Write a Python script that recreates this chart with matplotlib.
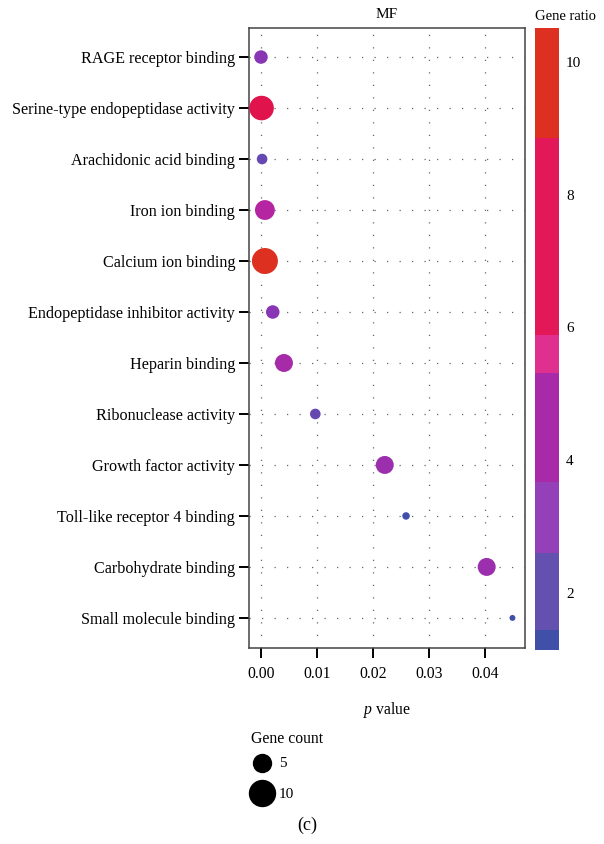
import numpy as np
import matplotlib
matplotlib.use('Agg')
import matplotlib.pyplot as plt
from matplotlib.colors import ListedColormap, BoundaryNorm, LinearSegmentedColormap, Normalize
from matplotlib.cm import ScalarMappable
from matplotlib.lines import Line2D
from matplotlib.legend_handler import HandlerLine2D

plt.rcParams['font.family'] = ['Liberation Serif', 'DejaVu Serif']
plt.rcParams['font.size'] = 11
plt.rcParams['mathtext.fontset'] = 'custom'
plt.rcParams['mathtext.rm'] = 'Liberation Serif'
plt.rcParams['mathtext.it'] = 'Liberation Serif:italic'

# GO molecular function terms (top to bottom)
terms = ['RAGE receptor binding', 'Serine-type endopeptidase activity',
         'Arachidonic acid binding', 'Iron ion binding', 'Calcium ion binding',
         'Endopeptidase inhibitor activity', 'Heparin binding',
         'Ribonuclease activity', 'Growth factor activity',
         'Toll-like receptor 4 binding', 'Carbohydrate binding',
         'Small molecule binding']
p_values = [0.0000, 0.0001, 0.0002, 0.0007, 0.0007, 0.0021, 0.0041,
            0.0097, 0.0221, 0.0259, 0.0403, 0.0449]
gene_count = [3, 9, 2, 6, 10, 3, 5, 2, 5, 1.2, 5, 0.9]
gene_ratio = [3.2, 8.0, 2.2, 5.0, 10.0, 3.2, 4.5, 2.2, 4.0, 1.3, 4.0, 1.3]

# binned colour bar as drawn in the figure
bar_bounds = [1.14, 1.44, 2.60, 3.67, 5.32, 5.89, 8.86, 10.51]
bar_colors = ['#4050a8', '#6450ae', '#9440b8', '#a82aa8', '#e0308f', '#e21858', '#de3020']
bar_ticks = [2, 4, 6, 8, 10]
legend_counts = [5, 10]


def dot_size(n):
    return 2.07 * (17.6 * np.asarray(n, dtype=float) - 7)


class CenteredMarker(HandlerLine2D):
    # put the legend circle level with the middle of its label
    def create_artists(self, legend, orig_handle, xdescent, ydescent, width, height, fontsize, trans):
        return super().create_artists(legend, orig_handle, xdescent, ydescent, width,
                                      height - ydescent, fontsize, trans)


dot_cmap = LinearSegmentedColormap.from_list(
    'ratio', list(zip([0.0, 0.1, 0.22, 0.38, 0.48, 0.7, 1.0],
                      ['#4050a8', '#6448b0', '#8a35b5', '#a82aa8', '#c81e98', '#e20a5a', '#de3020'])))
dot_norm = Normalize(1.3, 10.0)

fig = plt.figure(figsize=(6.04, 8.44), dpi=100)
ax = fig.add_axes([249 / 604, 1 - 648 / 844, 276 / 604, 620 / 844])

y = np.arange(len(terms))
ax.scatter(p_values, y, s=dot_size(gene_count), c=gene_ratio, cmap=dot_cmap,
           norm=dot_norm, zorder=3, linewidths=0)

ax.set_xlim(-0.00214, 0.04714)
ax.set_ylim(len(terms) - 1 + 0.59, -0.57)
ax.set_xticks([0, 0.01, 0.02, 0.03, 0.04])
ax.set_xticklabels(['0.00', '0.01', '0.02', '0.03', '0.04'])
ax.set_yticks(y)
ax.set_yticklabels(terms, fontsize=11.6)
ax.grid(True, color='#666666', linewidth=0.9, linestyle=(0, (1, 9)), zorder=0)
ax.tick_params(axis='both', length=7, width=1.4, color='black')
ax.tick_params(axis='x', labelsize=11.3, pad=6)
ax.tick_params(axis='y', pad=3)
for sp in ax.spines.values():
    sp.set_color('#444444')
    sp.set_linewidth(1.1)
ax.set_title('MF', fontsize=11, pad=7)
ax.set_xlabel('$p$ value', fontsize=11.3, labelpad=13)

# colour bar
cax = fig.add_axes([535 / 604, 1 - 650 / 844, 24 / 604, 622 / 844])
sm = ScalarMappable(norm=BoundaryNorm(bar_bounds, len(bar_colors)), cmap=ListedColormap(bar_colors))
cb = fig.colorbar(sm, cax=cax, spacing='proportional', ticks=bar_ticks)
cb.outline.set_visible(False)
cax.minorticks_off()
cax.tick_params(which='both', length=0, labelsize=11, pad=5)
cax.set_title('Gene ratio', fontsize=10.5, loc='left', pad=6)

# size legend
handles = [Line2D([], [], linestyle='none', marker='o', color='black',
                  markersize=np.sqrt(dot_size(c))) for c in legend_counts]
fig.legend(handles, [str(c) for c in legend_counts], title='Gene count',
           loc='upper left', bbox_to_anchor=(240 / 604, 1 - 720 / 844),
           frameon=False, alignment='left', fontsize=11, title_fontsize=11.3,
           labelspacing=0.1, handleheight=2.53, handletextpad=0.35,
           handlelength=1.5, borderaxespad=0.3,
           handler_map={Line2D: CenteredMarker()})

fig.text(307 / 604, 1 - 825 / 844, '(c)', ha='center', va='center', fontsize=13)

fig.savefig('out.png', dpi=100)
